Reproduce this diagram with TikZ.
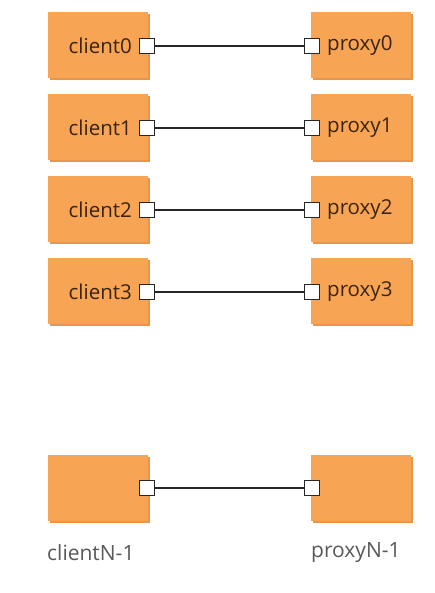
\documentclass[tikz,border=0pt]{standalone}
\usepackage{fontspec}
\setmainfont{Open Sans}
\begin{document}
\begin{tikzpicture}[x=1pt,y=-1pt,
  unit/.style={rectangle,fill=boxfill,minimum width=100pt,minimum height=66pt,
    inner sep=0pt,outer sep=0pt},
  port/.style={rectangle,draw=black!85,fill=white,line width=1.1pt,
    minimum size=15pt,inner sep=0pt},
  inlabel/.style={font=\fontsize{20.5}{24}\selectfont,text=labelbrown,inner sep=0pt},
  outlabel/.style={font=\fontsize{21}{24}\selectfont,text=black!65,inner sep=0pt},
  link/.style={draw=black!85,line width=1.1pt}]
\definecolor{boxfill}{HTML}{F7A455}
\definecolor{boxshade}{HTML}{E9964A}
\definecolor{labelbrown}{HTML}{3A2410}
\useasboundingbox (0,0) rectangle (434,593);
\fill[white] (0,0) rectangle (434,593);

% numbered client/proxy pairs
\foreach \i/\y in {0/45,1/127,2/209,3/291}{
  \fill[boxshade] (50,\y-31) rectangle (150,\y+35);
  \node[unit] (c\i) at (98,\y) {};
  \fill[boxshade] (313,\y-31) rectangle (413,\y+35);
  \node[unit] (p\i) at (361,\y) {};
  \node[port] (cp\i) at (147,\y+1) {};
  \node[port] (pp\i) at (312,\y+1) {};
  \node[inlabel,anchor=east] (cl\i) at (132,\y+1) {client\i};
  \node[inlabel,anchor=west] (pl\i) at (327,\y+1) {proxy\i};
  \draw[link] (cp\i) -- (pp\i);
}

% last pair, labelled underneath
\fill[boxshade] (50,457) rectangle (150,523);
\node[unit] (cN) at (98,488) {};
\fill[boxshade] (313,457) rectangle (413,523);
\node[unit] (pN) at (361,488) {};
\node[port] (cpN) at (147,488) {};
\node[port] (ppN) at (312,488) {};
\draw[link] (cpN) -- (ppN);
\node[outlabel,anchor=west] (clN) at (47,553) {clientN-1};
\node[outlabel,anchor=west] (plN) at (311,553) {proxyN-1};
\end{tikzpicture}
\end{document}
